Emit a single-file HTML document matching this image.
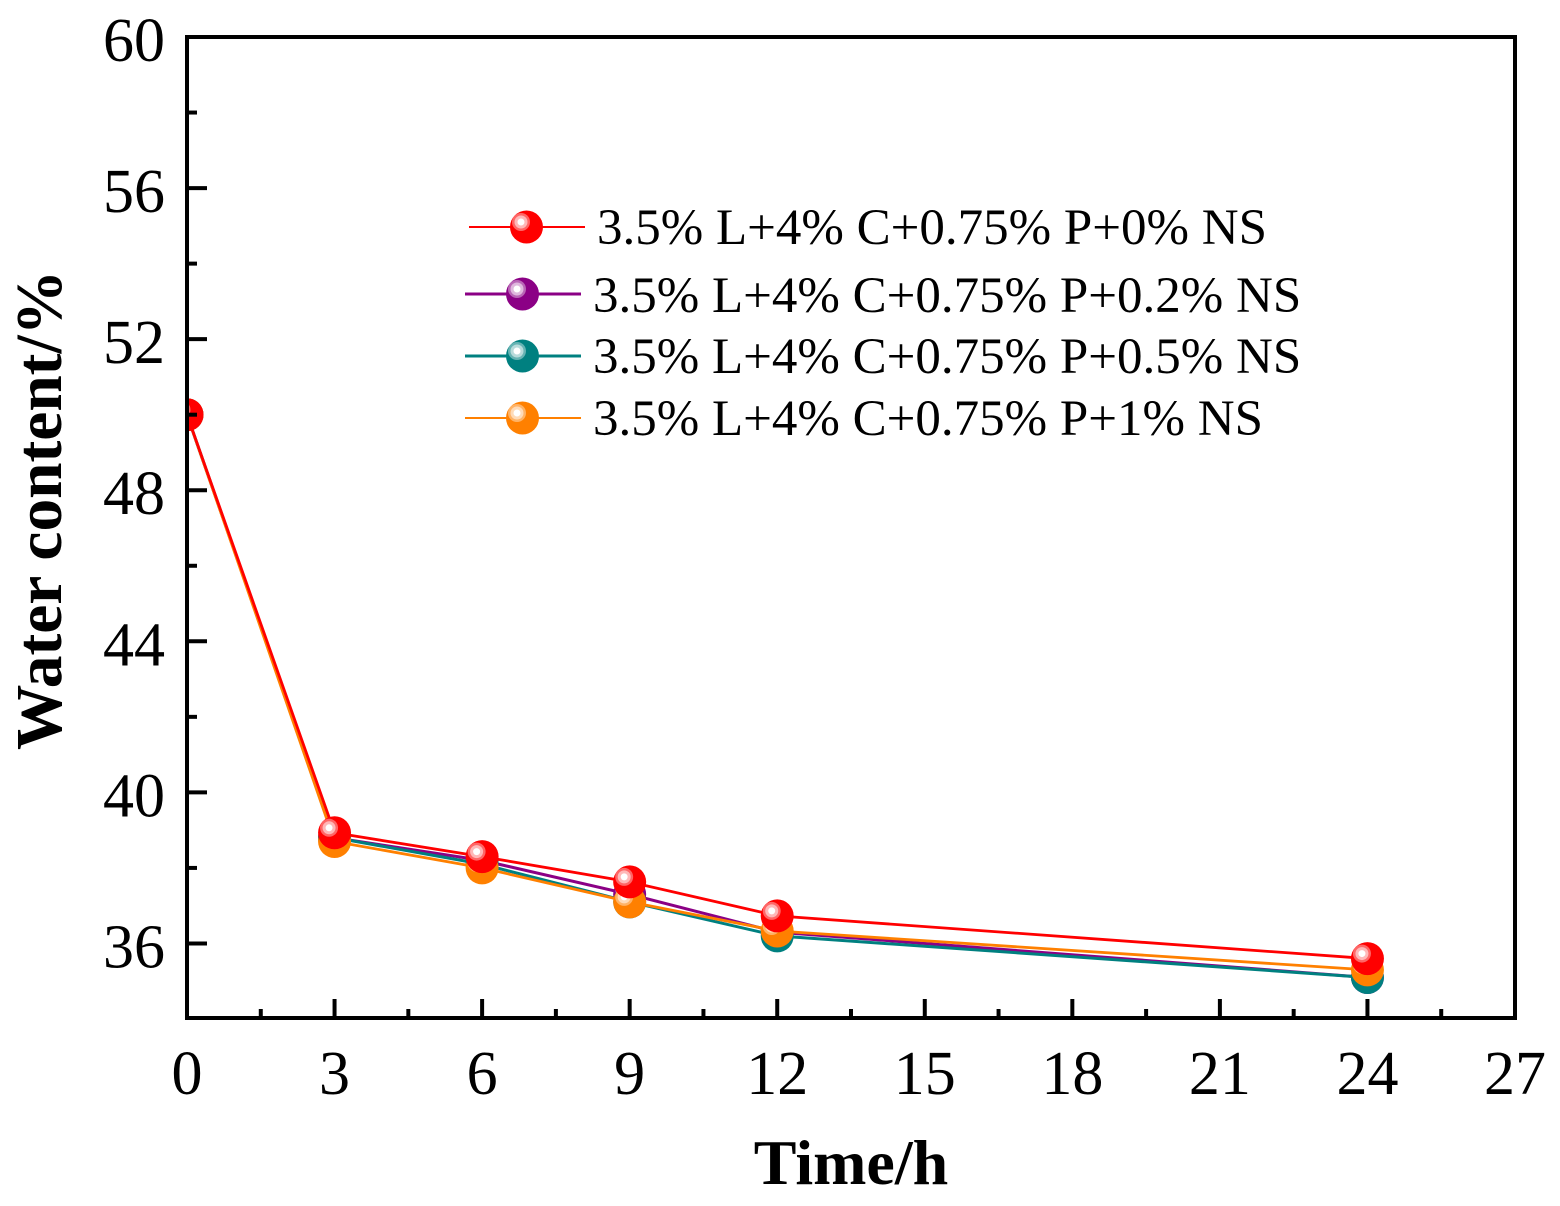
<!DOCTYPE html>
<html lang="en">
<head>
<meta charset="utf-8">
<title>Water content over time</title>
<style>
html,body{margin:0;padding:0;background:#fff;}
svg{display:block;}
text{font-family:"Liberation Serif",serif;fill:#000;}
</style>
</head>
<body>
<svg id="chart" xmlns="http://www.w3.org/2000/svg" width="1560" height="1206" viewBox="0 0 1560 1206">
<defs><clipPath id="plot-clip"><rect x="187" y="37" width="1328" height="981"/></clipPath></defs>
<rect width="1560" height="1206" fill="#fff"/>
</svg>
<script>
const times = [0, 3, 6, 9, 12, 24];
const seriesNames = ["3.5% L+4% C+0.75% P+0% NS", "3.5% L+4% C+0.75% P+0.2% NS", "3.5% L+4% C+0.75% P+0.5% NS", "3.5% L+4% C+0.75% P+1% NS"];
const valuesNs0 = [50, 38.93, 38.3, 37.63, 36.73, 35.6];
const valuesNs02 = [50, 38.8, 38.2, 37.3, 36.3, 35.1];
const valuesNs05 = [50, 38.8, 38.1, 37.1, 36.2, 35.1];
const valuesNs1 = [50, 38.7, 38.0, 37.1, 36.33, 35.3];
const xTickLabels = [0, 3, 6, 9, 12, 15, 18, 21, 24, 27];
const yTickLabels = [36, 40, 44, 48, 52, 56, 60];
const xMinorTicks = [1.5, 4.5, 7.5, 10.5, 13.5, 16.5, 19.5, 22.5, 25.5];
const yMinorTicks = [38, 42, 46, 50, 54, 58];

const NS = 'http://www.w3.org/2000/svg';
const svg = document.getElementById('chart');
const left = 187, right = 1515, top_ = 37, bottom = 1018;
function xScale(v) { return left + (v / 27) * (right - left); }
function yScale(v) { return top_ + ((60 - v) / 26) * 982; }
function make(parent, tag, props, txt) {
  const e = document.createElementNS(NS, tag);
  for (const k in props) e.setAttribute(k, props[k]);
  if (txt !== undefined) e.textContent = txt;
  parent.appendChild(e);
  return e;
}
function tint(hex, t) {
  const n = parseInt(hex.slice(1), 16);
  const c = [n >> 16, (n >> 8) & 255, n & 255].map(function (a) { return Math.round(a + (255 - a) * t); });
  return 'rgb(' + c.join(',') + ')';
}
function ball(parent, cx, cy, color) {
  make(parent, 'circle', { cx: cx, cy: cy, r: 16.5, fill: color });
  make(parent, 'circle', { cx: cx - 5.5, cy: cy - 5, r: 9, fill: tint(color, 0.4) });
  make(parent, 'circle', { cx: cx - 5.5, cy: cy - 5, r: 6.5, fill: tint(color, 0.72) });
  make(parent, 'circle', { cx: cx - 5.5, cy: cy - 5, r: 3.5, fill: '#fff' });
}

/* series, drawn back to front */
const drawOrder = [
  { values: valuesNs02, color: '#8b0085', width: 3, name: 'series-ns-0-2' },
  { values: valuesNs05, color: '#008080', width: 3, name: 'series-ns-0-5' },
  { values: valuesNs1, color: '#ff8000', width: 2.8, name: 'series-ns-1' },
  { values: valuesNs0, color: '#ff0000', width: 2.8, name: 'series-ns-0' }
];
const plot = make(svg, 'g', { 'clip-path': 'url(#plot-clip)' });


drawOrder.forEach(function (s) {
  const g = make(plot, 'g', {});
  
  
  const pts = s.values.map(function (v, i) { return xScale(times[i]) + ',' + yScale(v); }).join(' ');
  const line = make(g, 'polyline', { points: pts, fill: 'none', stroke: s.color, 'stroke-width': s.width });
  
  
  s.values.forEach(function (v, i) {
    const m = make(g, 'g', {});
    
    
    ball(m, xScale(times[i]), yScale(v), s.color);
  });
});

/* frame */
const frame = make(svg, 'rect', { x: left, y: top_, width: right - left, height: bottom - top_, fill: 'none', stroke: '#000', 'stroke-width': 4 });



/* x axis */
const xAxis = make(svg, 'g', {});


xTickLabels.forEach(function (v) {
  const x = xScale(v);
  const t = make(xAxis, 'line', { x1: x, x2: x, y1: bottom, y2: bottom - 19, stroke: '#000', 'stroke-width': 4 });
  
  
  const l = make(xAxis, 'text', { x: x, y: 1094, 'font-size': 62, 'text-anchor': 'middle' }, String(v));
  
  
});
xMinorTicks.forEach(function (v) {
  const x = xScale(v);
  const t = make(xAxis, 'line', { x1: x, x2: x, y1: bottom, y2: bottom - 9, stroke: '#000', 'stroke-width': 4 });
  
  
});

/* y axis */
const yAxis = make(svg, 'g', {});


yTickLabels.forEach(function (v) {
  const y = yScale(v);
  const t = make(yAxis, 'line', { x1: left, x2: left + 20, y1: y, y2: y, stroke: '#000', 'stroke-width': 4 });
  
  
  const l = make(yAxis, 'text', { x: 165, y: y + 24, 'font-size': 62, 'text-anchor': 'end' }, String(v));
  
  
});
yMinorTicks.forEach(function (v) {
  const y = yScale(v);
  const t = make(yAxis, 'line', { x1: left, x2: left + 10, y1: y, y2: y, stroke: '#000', 'stroke-width': 4 });
  
  
});

/* axis titles */
const xTitle = make(svg, 'text', { x: 851, y: 1184, 'font-size': 64, 'font-weight': 'bold', 'text-anchor': 'middle' }, 'Time/h');


const yTitle = make(svg, 'text', { transform: 'translate(61,510) rotate(-90)', 'font-size': 65.4, 'font-weight': 'bold', 'text-anchor': 'middle' }, 'Water content/%');



/* legend */
const legendColors = ['#ff0000', '#8b0085', '#008080', '#ff8000'];
const legendWidths = [2, 3, 3, 2];
const legend = make(svg, 'g', {});


const legendRows = [[469, 227, 597, 244], [465, 294, 593, 312], [465, 356, 593, 373], [465, 418, 593, 435]];
seriesNames.forEach(function (name, i) {
  const r = legendRows[i];
  const g = make(legend, 'g', {});
  
  
  make(g, 'line', { x1: r[0], x2: r[0] + 116, y1: r[1], y2: r[1], stroke: legendColors[i], 'stroke-width': legendWidths[i] });
  ball(g, r[0] + 57.5, r[1], legendColors[i]);
  make(g, 'text', { x: r[2], y: r[3], 'font-size': 51 }, name);
});
</script>
</body>
</html>
